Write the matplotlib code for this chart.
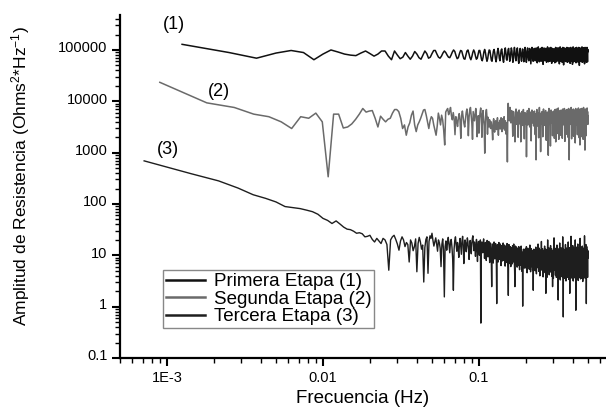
import numpy as np
import matplotlib.pyplot as plt
from matplotlib.ticker import LogLocator, NullFormatter
from matplotlib.transforms import ScaledTranslation

plt.rcParams['font.family'] = ['Liberation Sans', 'DejaVu Sans']
plt.rcParams['mathtext.default'] = 'regular'

# espaciado en frecuencia de cada espectro (Hz)
df1 = 0.00125
df2 = 0.0009
df3 = 0.000714

# log10 de la amplitud
log_amp1 = [
    5.11, 4.95, 4.84, 4.94, 4.99, 4.95, 4.81, 4.92, 5.00, 4.96,
    4.92, 4.90, 4.89, 4.94, 4.98, 4.93, 4.88, 4.92, 4.98, 4.98,
    4.88, 4.81,
    4.98, 4.90, 4.83, 4.86, 4.95, 4.88, 4.82, 4.88, 4.97, 4.92,
    4.85, 4.82, 4.90, 4.98, 4.93, 4.84, 4.86, 4.93, 4.99, 4.99,
    4.92, 4.86, 4.84, 4.88, 4.94, 4.98, 4.95, 4.90, 4.86, 4.85,
    4.90, 4.96, 5.00, 4.97, 4.89, 4.83, 4.85, 4.93,
    4.99, 4.98, 4.90, 4.83, 4.82, 4.90, 4.98, 5.00, 4.93, 4.85,
    4.81, 4.87, 4.95, 5.00, 4.96, 4.88, 4.82, 4.84, 4.92, 4.99,
    4.99, 4.91, 4.82, 4.79, 4.86, 4.96, 5.01, 4.95, 4.85, 4.78,
    4.83, 4.93, 5.00, 4.99, 4.89, 4.80, 4.78, 4.88, 4.98, 5.01,
    4.94, 4.83, 4.77, 4.86, 4.97, 5.03, 4.96, 4.84, 4.79, 4.90, 5.00, 5.02, 4.92, 4.81, 4.76, 4.87, 4.98, 5.04, 4.95, 4.82,
    4.80, 4.91, 5.01, 5.03, 4.90, 4.78, 4.83, 4.95, 5.04, 4.99, 4.86, 4.76, 4.85, 4.97, 5.05, 4.97, 4.84, 4.79, 4.89, 5.00,
    5.04, 4.93, 4.80, 4.74, 4.88, 4.99, 5.03, 4.94, 4.82, 4.78, 4.91, 5.02, 5.01, 4.89, 4.77, 4.82, 4.96, 5.05, 4.98, 4.85,
    4.76, 4.86, 4.99, 5.04, 4.95, 4.81, 4.79, 4.92, 5.03, 5.00, 4.87, 4.73, 4.84, 4.97, 5.05, 4.96, 4.83, 4.78, 4.90, 5.02,
    5.03, 4.91, 4.79, 4.80, 4.93, 5.04, 4.99, 4.85, 4.75, 4.87, 4.98, 5.06, 4.95, 4.81, 4.77, 4.90, 5.01, 5.03, 4.89, 4.78,
    4.83, 4.96, 5.05, 4.97, 4.84, 4.72, 4.86, 4.99, 5.04, 4.94, 4.80, 4.79, 4.92, 5.03, 5.01, 4.88, 4.76, 4.84, 4.97, 5.06,
    4.96, 4.82, 4.77, 4.89, 5.00, 5.04, 4.91, 4.78, 4.81, 4.94, 5.05, 4.98, 4.85, 4.74, 4.86, 4.98, 5.03, 4.93, 4.80, 4.78,
    4.91, 5.02, 5.02, 4.88, 4.75, 4.83, 4.96, 5.05, 4.97, 4.83, 4.77, 4.89, 5.01, 5.04, 4.92, 4.79, 4.80, 4.94, 5.04, 4.99,
    4.86, 4.73, 4.85, 4.98, 5.06, 4.95, 4.81, 4.78, 4.90, 5.02, 5.03, 4.89, 4.76, 4.82, 4.95, 5.05, 4.97, 4.84, 4.71, 4.87,
    4.99, 5.04, 4.93, 4.80, 4.79, 4.92, 5.03, 5.00, 4.87, 4.77, 4.84, 4.97, 5.05, 4.96, 4.82, 4.76, 4.88, 5.00, 5.04, 4.91,
    4.78, 4.81, 4.94, 5.04, 4.98, 4.85, 4.74, 4.86, 4.99, 5.05, 4.94, 4.80, 4.78, 4.91, 5.02, 5.02, 4.88, 4.72, 4.83, 4.96,
    5.06, 4.97, 4.83, 4.77, 4.89, 5.01, 5.03, 4.90, 4.79, 4.80, 4.93, 5.04, 4.99, 4.86, 4.75, 4.85, 4.98, 5.05, 4.95, 4.81,
    4.78, 4.90, 5.02, 5.03, 4.89, 4.76, 4.82, 4.95, 5.05, 4.97, 4.84, 4.70, 4.86, 4.99, 5.04, 4.93, 4.80, 4.79, 4.92, 5.03,
    5.00, 4.87, 4.77, 4.84, 4.97, 5.06, 4.96, 4.82, 4.76, 4.88, 5.00, 5.04, 4.91, 4.78, 4.81, 4.94, 5.04, 4.98, 4.85, 4.73,
    4.86, 4.98, 5.05, 4.95, 4.81, 4.78, 4.90, 5.02, 5.03, 4.89, 4.76, 4.83, 4.96, 5.05, 4.97, 4.84, 4.77, 4.89, 5.01, 4.97,
]

log_amp2 = [
    4.37, 3.97, 3.88, 3.75, 3.70, 3.60, 3.47, 3.70, 3.67, 3.77,
    3.60, 2.53, 3.75, 3.75, 3.48, 3.50, 3.56, 3.65, 3.75, 3.86,
    3.79, 3.81, 3.82, 3.67, 3.50, 3.71, 3.65, 3.60, 3.65, 3.67,
    3.77, 3.84, 3.84, 3.80, 3.67, 3.47, 3.54, 3.34, 3.50, 3.58,
    3.73, 3.81, 3.54, 3.41, 3.54, 3.60, 3.67, 3.75, 3.83, 3.84,
    3.73, 3.60, 3.47, 3.62, 3.70, 3.67, 3.54, 3.44, 3.34, 3.52,
    3.77, 3.67, 3.54, 3.73, 3.64, 3.44, 3.15, 3.79, 3.83,
    3.86, 3.74, 3.80, 3.88, 3.72, 3.64, 3.78, 3.66, 3.35, 3.70, 3.62, 3.51, 3.68, 3.76, 3.63, 3.28, 3.72, 3.81, 3.69, 3.57,
    3.50, 3.64, 3.78, 3.85, 3.72, 3.33, 3.69, 3.83, 3.88, 3.74, 3.58, 3.26, 3.80, 3.71, 3.62, 3.75, 3.86, 3.70, 3.31, 3.64,
    3.72, 3.38, 3.66, 3.79, 3.87, 3.68, 3.30, 3.74, 3.82, 3.63, 3.52, 2.99, 3.60, 3.77, 3.84, 3.70, 3.36, 3.69, 3.62, 3.50,
    3.64, 3.55, 3.47, 3.60, 3.52, 3.44, 3.25, 3.58, 3.66, 3.49, 3.40, 3.57, 3.62, 3.51, 3.45, 3.60, 3.68, 3.54, 3.34, 3.58,
    3.50, 3.63, 3.46, 3.55, 3.68, 3.52, 3.41, 3.60, 3.66, 3.48, 3.57, 3.70, 3.44, 3.53, 3.62, 3.49, 3.36, 3.58, 3.47, 2.82,
    3.80, 3.96, 3.85, 3.70, 3.62, 3.78, 3.88, 3.73, 3.58, 3.67, 3.82, 3.74, 3.60, 3.32, 3.69, 3.80, 3.71, 3.57, 3.64, 3.21,
    3.62, 3.78, 3.85, 3.70, 3.55, 3.66, 3.79, 3.68, 3.30, 3.61, 3.74, 3.83, 3.67, 3.56, 3.70, 3.77, 3.21, 3.58, 3.72, 3.80,
    3.66, 3.53, 3.62, 3.76, 3.84, 3.71, 3.59, 3.27, 3.65, 3.78, 3.70, 3.56, 3.63, 3.75, 2.92, 3.57, 3.71, 3.82, 3.69, 3.54,
    3.60, 3.74, 3.86, 3.73, 3.61, 3.50, 3.66, 3.79, 3.68, 3.55, 3.23, 3.62, 3.75, 3.83, 3.70, 3.58, 3.67, 3.79, 3.64, 3.52,
    3.61, 3.73, 3.81, 3.69, 3.56, 3.35, 3.63, 3.76, 2.86, 3.59, 3.72, 3.84, 3.71, 3.60, 3.52, 3.68, 3.77, 3.65, 3.29, 3.63,
    3.75, 3.88, 3.74, 3.62, 3.49, 3.58, 3.02, 3.64, 3.77, 3.70, 3.57, 3.66, 3.80, 3.72, 3.59, 3.31, 3.61, 3.74, 3.85, 3.70,
    3.58, 3.65, 3.78, 3.67, 3.53, 3.60, 3.73, 3.82, 3.69, 3.56, 3.24, 3.63, 3.76, 3.68, 3.57, 3.66, 3.79, 3.62, 3.50, 2.95,
    3.61, 3.74, 3.86, 3.72, 3.60, 3.68, 3.78, 3.64, 3.51, 3.13, 3.62, 3.75, 3.83, 3.70, 3.58, 3.67, 3.80, 3.69, 3.55, 3.33,
    3.63, 3.77, 3.71, 3.59, 3.66, 3.81, 3.73, 3.60, 3.28, 3.58, 3.72, 3.84, 3.70, 3.57, 3.65, 3.21, 3.62, 3.76, 3.85, 3.71,
    3.58, 3.37, 3.64, 3.78, 3.69, 3.56, 3.63, 3.76, 3.87, 3.72, 3.60, 3.26, 3.67, 3.79, 3.66, 3.55, 3.62, 3.74, 3.82, 3.68,
    3.57, 3.34, 3.61, 3.75, 3.83, 3.70, 3.58, 3.66, 3.79, 3.64, 3.28, 3.60, 3.73, 3.85, 3.71, 3.59, 3.68, 3.80, 3.67, 3.54,
    3.62, 3.76, 3.86, 3.73, 3.61, 3.22, 3.65, 3.78, 3.69, 3.56, 3.64, 3.77, 3.83, 3.70, 3.58, 3.36, 3.63, 3.75, 3.84, 3.72,
    3.60, 3.67, 3.79, 3.65, 3.30, 3.61, 3.74, 3.86, 3.71, 3.59, 3.66, 2.86, 3.62, 3.76, 3.84, 3.70, 3.57, 3.65, 3.78, 3.68,
    3.55, 3.63, 3.77, 3.88, 3.73, 3.60, 3.27, 3.64, 3.76, 3.69, 3.57, 3.66, 3.80, 3.72, 3.59, 3.65, 3.78, 3.85, 3.70, 3.32,
    3.52, 3.66, 3.79, 3.67, 3.56, 3.63, 3.75, 3.83, 3.71, 3.60, 3.19, 3.62, 3.77, 3.86, 3.73, 3.61, 3.68, 3.80, 3.66, 3.54,
    3.63, 3.76, 3.84, 3.70, 3.58, 3.35, 3.64, 3.78, 3.69, 3.57, 3.65, 3.79, 3.87, 3.72, 3.60, 3.67, 3.77, 3.64, 3.29, 3.61,
    3.74, 3.82, 3.68, 3.15, 3.59, 3.73, 3.85, 3.71, 3.60, 3.66, 3.78, 3.65, 3.54, 3.62, 3.75, 3.86, 3.72, 3.59, 3.31, 3.63,
    3.77, 3.84, 3.70, 3.58, 3.66, 3.79, 3.68, 3.26, 3.63, 3.76, 3.88, 3.73, 3.61, 3.50, 3.65, 3.78, 3.70, 3.57, 3.64, 3.80,
    3.72, 3.05, 3.60, 3.74, 3.85, 3.71, 3.59, 3.67, 3.79, 3.66, 3.33, 3.62, 3.76, 3.84, 3.70, 3.58, 3.65, 3.78, 3.87, 3.73,
    3.61, 3.69, 3.80, 3.67, 3.55, 3.72,
]

log_amp3 = [
    2.84, 2.59, 2.45, 2.31, 2.18, 2.11, 2.04, 1.95, 1.93, 1.91,
    1.88, 1.85, 1.80, 1.72, 1.68, 1.62, 1.67, 1.61, 1.55, 1.51,
    1.50, 1.47, 1.43, 1.44, 1.42, 1.36, 1.37, 1.39, 1.31, 1.26,
    1.33, 1.28, 1.23, 1.33, 1.30, 1.21, 0.71, 1.30, 1.36, 1.39,
    1.31, 1.22, 1.10, 1.28, 1.36, 1.30, 1.17, 1.25, 1.21, 0.87,
    1.30, 1.24, 1.09, 1.17, 1.32, 0.68, 1.23, 1.35, 1.26, 1.12,
    1.20, 0.48, 1.15, 1.31, 1.36, 0.65, 1.27, 1.38, 1.33, 1.43,
    1.29, 1.18, 1.26, 1.34, 1.22, 1.08, 1.30, 1.25, 1.14, 0.78,
    1.21, 1.32, 1.10, 0.19, 1.17, 1.28, 1.10, 1.24, 1.35, 1.19,
    1.05, 1.27, 1.31, 1.16, 0.93, 0.32, 1.12, 1.29, 1.36, 1.20,
    1.08, 1.25, 1.14, 0.96, 1.22, 1.33, 1.18, 1.02, 1.28, 1.37, 1.21, 0.84, 1.15, 1.30, 1.24, 1.07, 1.19, 1.34, 1.26, 1.11,
    0.92, 1.17, 1.29, 1.20, 1.03, 1.23, 1.33, 1.38, 1.22, 1.09, 1.26, 1.16, 0.98, 1.20, 1.31, 1.13, 0.88, 1.18, 1.27, 1.12,
    1.00, 1.22, 1.30, -0.32, 1.15, 1.26, 1.19, 1.05, 1.24, 1.32, 1.17, 0.94, 1.12, 1.25, 1.08, 0.90, 1.20, 1.29, 1.14, 0.97,
    1.18, 1.27, 1.10, 0.86, 1.15, 1.24, 1.06, 0.91, 0.39, 1.13, 1.22, 1.01, 0.85, 1.17, 1.26, 1.09, 0.93, 1.14, 1.23, 1.04,
    0.88, 0.06, 1.11, 1.21, 1.03, 0.87, 1.16, 1.25, 1.07, 0.92, 1.13, 1.22, 0.99, 0.80, 1.10, 1.19, 1.02, 0.89, 1.15, 1.24,
    1.06, 0.90, 1.12, 1.20, 0.97, 0.79, 1.09, 1.18, 1.01, 0.86, 1.14, 1.23, 1.05, 0.91, 0.74, 0.22, 1.11, 1.21, 1.00, 0.84,
    1.08, 1.17, 0.95, 0.78, 1.06, 1.15, 0.98, 0.83, 1.10, 1.19, 1.02, 0.87, 1.13, 1.22, 1.04, 0.88, 0.70, 0.39, 1.09, 1.18,
    0.99, 0.82, 1.07, 1.16, 0.94, 0.77, 1.03, 1.13, 0.96, 0.80, 1.08, 1.17, 1.00, 0.85, 0.72, 1.05, 1.14, 0.97, 0.81, 1.09,
    1.18, 1.01, 0.86, 0.69, 0.95, 1.06, 0.01, 0.90, 1.04, 1.12, 0.93, 0.76, 1.00, 1.10, 0.92, 0.75, 1.03, 1.13, 0.96, 0.80,
    1.08, 1.17, 0.98, 0.82, 0.66, 0.94, 1.05, 1.14, 0.97, 0.79, 1.02, 1.11, 0.91, 0.73, 0.99, 1.09, 1.20, 1.01, 0.84, 0.68,
    0.93, 1.04, 1.13, 0.95, 0.78, 1.01, 1.10, 0.89, 0.71, 0.97, 1.07, 0.32, 0.92, 1.03, 1.12, 0.94, 0.77, 1.00, 1.08, 0.87,
    0.70, 0.96, 1.06, 1.16, 0.99, 0.81, 0.64, 0.91, 1.02, 1.11, 0.93, 0.76, 0.99, 1.09, 1.22, 1.03, 0.86, 0.69, 0.95, 1.05,
    1.14, 0.96, 0.79, 0.60, 0.90, 1.01, 1.10, 0.92, 0.74, 0.98, 1.08, 1.27, 1.06, 0.88, 0.71, 0.94, 1.04, 1.13, 0.95, 0.77,
    0.58, 0.89, 1.00, 1.09, 0.91, 0.73, 0.97, 1.07, 1.18, 1.00, 0.83, 0.66, 0.93, 1.03, 1.12, 0.26, 0.92, 1.02, 1.11, 0.93,
    0.75, 0.57, 0.88, 0.99, 1.08, 1.30, 1.07, 0.89, 0.72, 0.96, 1.06, 1.15, 0.97, 0.80, 0.62, 0.91, 1.01, 1.10, 0.92, 0.74,
    0.98, 1.08, 1.19, 1.01, 0.84, 0.67, 0.94, 1.04, 1.13, 0.95, 0.78, 0.59, 0.90, 1.00, 0.39, 0.93, 1.09, 0.91, 0.73, 0.55,
    0.87, 0.98, 1.07, 1.34, 1.10, 0.90, 0.71, 0.95, 1.05, 1.14, 0.96, 0.79, 0.61, 0.92, 1.02, 1.11, 0.93, 0.75, 0.57, 0.89,
    0.99, 1.08, 1.20, 1.02, 0.85, 0.68, 0.94, 1.04, 1.13, 0.95, 0.13, 0.91, 1.01, 1.10, 0.92, 0.74, 0.56, 0.88, 0.99, 1.09,
    1.24, 1.05, 0.87, 0.69, 0.52, 0.86, 0.97, 1.06, 1.15, 0.97, 0.80, 0.62, 0.91, 1.01, 1.11, 0.93, 0.76, 0.58, 0.89, 1.00,
    1.09, 1.36, 1.12, 0.91, 0.72, -0.20, 0.90, 1.02, 1.12, 0.94, 0.77, 0.60, 0.90, 1.00, 1.09, 0.91, 0.73, 0.55, 0.87, 0.98,
    1.07, 1.21, 1.03, 0.86, 0.68, 0.50, 0.85, 0.96, 1.05, 1.14, 0.96, 0.79, 0.61, 0.92, 1.02, 1.11, 0.93, 0.75, 0.57, 0.88,
    0.99, 1.08, 1.26, 1.07, 0.89, 0.70, 0.53, 0.86, 0.97, 1.06, 1.15, 0.98, 0.80, 0.63, 0.26, 0.91, 1.01, 1.10, 0.92, 0.74,
    0.56, 0.88, 0.99, 1.08, 1.37, 1.13, 0.93, 0.74, 0.57, 0.89, 1.00, 1.09, 0.91, 0.73, 0.55, 0.87, 0.98, 1.07, 1.19, 1.01,
    0.84, 0.66, 0.50, 0.85, 0.96, 1.05, 1.14, 0.96, 0.78, 0.60, 0.91, 1.01, 1.10, 0.92, 0.74, 0.56, 0.88, 0.99, 1.08, 1.30,
    1.09, 0.90, 0.71, 0.54, -0.07, 0.87, 0.98, 1.07, 1.16, 0.98, 0.80, 0.62, 0.91, 1.01, 1.10, 0.92, 0.74, 0.56, 0.88, 0.99,
    1.08, 1.22, 1.04, 0.87, 0.69, 0.51, 0.86, 0.97, 1.06, 1.15, 0.97, 0.79, 0.61, 0.92, 1.02, 1.11, 0.93, 0.75, 0.57, 0.89,
    1.00, 1.09, 1.33, 1.11, 0.91, 0.72, 0.54, 0.87, 0.98, 1.07, 1.16, 0.98, 0.80, 0.63, 0.90, 1.00, 1.09, 0.91, 0.73, 0.55,
    0.87, 0.98, 1.07, 1.18, 1.00, 0.83, 0.65, 0.49, 0.85, 0.96, 1.05, 1.14, 0.96, 0.78, 0.60, 0.91, 1.01, 1.10, 0.92, 0.74,
    0.56, 0.88, 0.99, 1.08, 1.38, 1.14, 0.93, 0.74, 0.57, 0.89, 1.00, 1.09, 0.91, 0.73, 0.55, 0.87, 0.98, 1.07, 1.21, 1.03,
    0.86, 0.68, 0.06, 0.88, 0.99, 1.08, 1.17, 0.99, 0.81, 0.63, 0.92, 1.02, 1.11, 0.93, 0.75, 0.57, 0.89, 1.00, 1.09, 0.95,
]

labels = ['Primera Etapa (1)', 'Segunda Etapa (2)', 'Tercera Etapa (3)']
colors = ['#111111', '#6a6a6a', '#1e1e1e']

freq1 = df1 * np.arange(1, len(log_amp1) + 1)
freq2 = df2 * np.arange(1, len(log_amp2) + 1)
freq3 = df3 * np.arange(1, len(log_amp3) + 1)

fig = plt.figure(figsize=(6.06, 4.08), dpi=100)
ax = fig.add_axes([120 / 606, 1 - 358 / 408, 486 / 606, 343 / 408])

ax.plot(freq1, 10 ** np.array(log_amp1), color=colors[0], lw=1.1, label=labels[0])
ax.plot(freq2, 10 ** np.array(log_amp2), color=colors[1], lw=1.1, label=labels[1])
ax.plot(freq3, 10 ** np.array(log_amp3), color=colors[2], lw=1.0, label=labels[2])

ax.set_xscale('log')
ax.set_yscale('log')
ax.set_xlim(5.0e-4, 0.652)
ax.set_ylim(0.1, 4.8e5)

for s in ['top', 'right']:
    ax.spines[s].set_visible(False)
for s in ['left', 'bottom']:
    ax.spines[s].set_linewidth(1.6)

ax.set_xticks([1e-3, 1e-2, 1e-1])
ax.set_xticklabels(['1E-3', '0.01', '0.1'])
ax.set_yticks([0.1, 1, 10, 100, 1000, 10000, 100000])
ax.set_yticklabels(['0.1', '1', '10', '100', '1000', '10000', '100000'])
ax.xaxis.set_minor_locator(LogLocator(base=10, subs=np.arange(2, 10), numticks=20))
ax.yaxis.set_minor_locator(LogLocator(base=10, subs=np.arange(2, 10), numticks=20))
ax.xaxis.set_minor_formatter(NullFormatter())
ax.yaxis.set_minor_formatter(NullFormatter())
ax.tick_params(which='major', direction='out', length=6, width=1.5, labelsize=10.5, pad=3)
ax.tick_params(which='minor', direction='out', length=3.5, width=1.0)

offset = ScaledTranslation(0, 3 / 100, fig.dpi_scale_trans)
for lab in ax.get_yticklabels():
    lab.set_transform(lab.get_transform() + offset)

ax.set_xlabel('Frecuencia (Hz)', fontsize=13.5, labelpad=4)
ax.set_ylabel('Amplitud de Resistencia (Ohms$^2$*Hz$^{-1}$)', fontsize=12.5)
ax.yaxis.set_label_coords(-0.182, 0.531)

ax.text(1.11e-3, 3.07e5, '(1)', fontsize=13, ha='center', va='center')
ax.text(2.14e-3, 1.52e4, '(2)', fontsize=13, ha='center', va='center')
ax.text(1.015e-3, 1.175e3, '(3)', fontsize=13, ha='center', va='center')

leg = ax.legend(loc='lower left', bbox_to_anchor=(0.0885, 0.0875), borderaxespad=0,
                fontsize=13.5, frameon=True, fancybox=False, framealpha=1,
                edgecolor='#888888', handlelength=2.1, handletextpad=0.45,
                borderpad=0.15, labelspacing=0.02)
leg.get_frame().set_linewidth(1.0)
for line in leg.get_lines():
    line.set_linewidth(1.8)

fig.savefig('out.png', dpi=100)
